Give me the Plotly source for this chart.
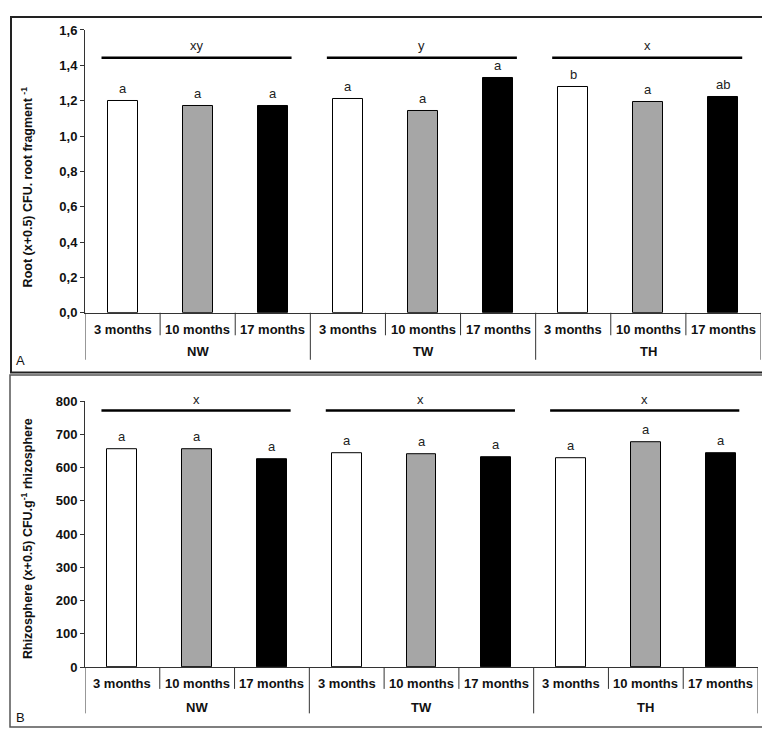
import plotly.graph_objects as go

# categories
months = ['3 months', '10 months', '17 months']
sites = ['NW', 'TW', 'TH']
bar_colors = ['white', '#a6a6a6', 'black']

# panel A: root colonisation
root_values = [1.20, 1.17, 1.17, 1.21, 1.14, 1.33, 1.28, 1.19, 1.22]
root_letters = ['a', 'a', 'a', 'a', 'a', 'a', 'b', 'a', 'ab']
root_site_letters = ['xy', 'y', 'x']

# panel B: rhizosphere
rhizo_values = [657, 657, 625, 643, 642, 632, 629, 678, 645]
rhizo_letters = ['a', 'a', 'a', 'a', 'a', 'a', 'a', 'a', 'a']
rhizo_site_letters = ['x', 'x', 'x']

W, H = 770, 731
FONT = 'Liberation Sans, Arial, sans-serif'


def px_x(v):
    return v / W


def px_y(v):
    return 1 - v / H


fig = go.Figure()
xpos = list(range(len(months) * len(sites)))
colors = bar_colors * len(sites)

panels = [
    dict(xa='x', ya='y', values=root_values, letters=root_letters, site_letters=root_site_letters,
         sig_y=1.443, sig_txt_px=31.5, area=(77, 753, 15.3, 304), month_y=321, site_y=344,
         short_y=327, long_y=352, title='Root (x+0.5) CFU. root fragment <sup>-1</sup>',
         title_y=176, tag='A', tag_y=353),
    dict(xa='x2', ya='y2', values=rhizo_values, letters=rhizo_letters, site_letters=rhizo_site_letters,
         sig_y=772, sig_txt_px=393, area=(77, 750, 394.3, 665.7), month_y=682, site_y=707,
         short_y=688, long_y=713, title='Rhizosphere (x+0.5) CFU.g<sup>-1</sup> rhizosphere',
         title_y=535, tag='B', tag_y=717),
]

annotations = []
shapes = []

for p in panels:
    fig.add_trace(go.Bar(x=xpos, y=p['values'], width=0.4, xaxis=p['xa'], yaxis=p['ya'],
                         marker=dict(color=colors, line=dict(color='black', width=1)),
                         showlegend=False))
    # letters above bars
    for i, (v, t) in enumerate(zip(p['values'], p['letters'])):
        annotations.append(dict(x=i, y=v, xref=p['xa'], yref=p['ya'], text=t, showarrow=False,
                                xanchor='center', yanchor='bottom', yshift=3,
                                font=dict(size=13, color='#222')))
    # site significance lines
    for g, t in enumerate(p['site_letters']):
        x0 = -0.5 + 3 * g + 0.22
        x1 = 2.5 + 3 * g - 0.25
        shapes.append(dict(type='line', xref=p['xa'], yref=p['ya'], x0=x0, x1=x1,
                           y0=p['sig_y'], y1=p['sig_y'], line=dict(color='black', width=2.5)))
        annotations.append(dict(x=(x0 + x1) / 2, y=px_y(p['sig_txt_px']), xref=p['xa'], yref='paper',
                                text=t, showarrow=False, xanchor='center', yanchor='middle',
                                font=dict(size=13, color='#222')))
    # category axis labels and dividers
    ax_y = p['area'][3]
    for i in range(len(xpos) + 1):
        xd = i - 0.5
        end = p['long_y'] if i % 3 == 0 else p['short_y']
        shapes.append(dict(type='line', xref=p['xa'], yref='paper', x0=xd, x1=xd,
                           y0=px_y(ax_y), y1=px_y(end), line=dict(color='#333', width=1)))
    for i in xpos:
        annotations.append(dict(x=i, y=px_y(p['month_y']), xref=p['xa'], yref='paper',
                                text=months[i % 3], showarrow=False,
                                xanchor='center', yanchor='middle',
                                font=dict(size=13, color='#111', weight='bold')))
    for g, s in enumerate(sites):
        annotations.append(dict(x=3 * g + 1, y=px_y(p['site_y']), xref=p['xa'], yref='paper',
                                text=s, showarrow=False, xanchor='center', yanchor='middle',
                                font=dict(size=13, color='#111', weight='bold')))
    annotations.append(dict(x=px_x(19), y=px_y(p['title_y']), xref='paper', yref='paper',
                            text=p['title'], textangle=-90, showarrow=False,
                            xanchor='center', yanchor='middle',
                            font=dict(size=12.5, color='#111', weight='bold')))
    annotations.append(dict(x=px_x(13), y=px_y(p['tag_y']), xref='paper', yref='paper',
                            text=p['tag'], showarrow=False, xanchor='center', yanchor='middle',
                            font=dict(size=13, color='#111')))

# panel frames
shapes.append(dict(type='rect', xref='paper', yref='paper', x0=px_x(3), x1=px_x(766),
                   y0=px_y(365), y1=px_y(2), line=dict(color='#222', width=2)))
shapes.append(dict(type='rect', xref='paper', yref='paper', x0=px_x(2), x1=px_x(765.5),
                   y0=px_y(727), y1=px_y(367.5), line=dict(color='#555', width=1.5)))

xaxis_style = dict(range=[-0.5, 8.5], showticklabels=False, showgrid=False, zeroline=False,
                   showline=True, linecolor='#333', linewidth=1, ticks='')
yaxis_style = dict(showgrid=False, zeroline=False, showline=True, linecolor='#333', linewidth=1,
                   ticks='outside', ticklen=4, tickcolor='#333',
                   tickfont=dict(size=13, color='#111', weight='bold'))

a1, a2 = panels[0]['area'], panels[1]['area']
fig.update_layout(
    width=W, height=H, margin=dict(l=0, r=0, t=0, b=0),
    paper_bgcolor='white', plot_bgcolor='white', separators=',.',
    font=dict(family=FONT),
    bargap=0,
    xaxis=dict(domain=[px_x(a1[0]), px_x(a1[1])], anchor='y', **xaxis_style),
    yaxis=dict(domain=[px_y(a1[3]), px_y(a1[2])], anchor='x', range=[0, 1.6], dtick=0.2,
               tickformat='.1f', **yaxis_style),
    xaxis2=dict(domain=[px_x(a2[0]), px_x(a2[1])], anchor='y2', **xaxis_style),
    yaxis2=dict(domain=[px_y(a2[3]), px_y(a2[2])], anchor='x2', range=[0, 800], dtick=100,
                **yaxis_style),
    annotations=annotations,
    shapes=shapes,
)

fig.write_html("out.html")
